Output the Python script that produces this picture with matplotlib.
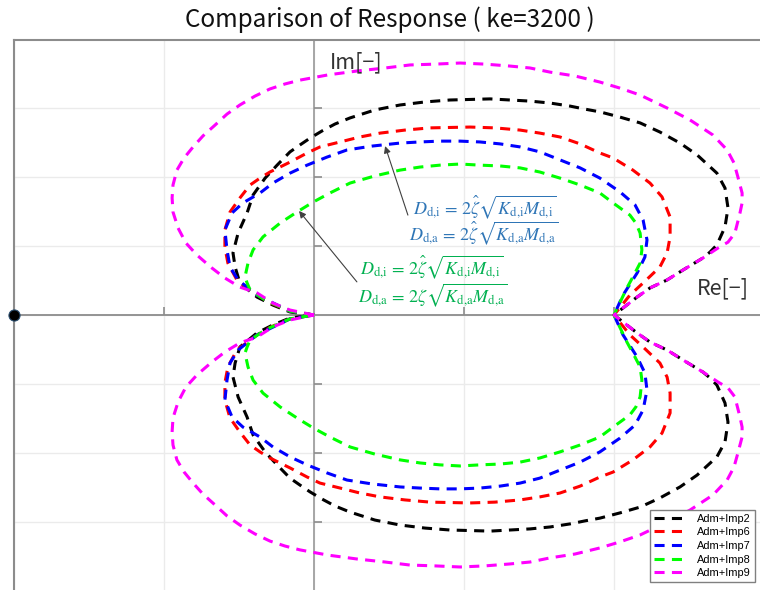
import numpy as np
import matplotlib
matplotlib.use("Agg")
import matplotlib.pyplot as plt

plt.rcParams['font.family'] = ['Noto Sans CJK JP', 'DejaVu Sans']
plt.rcParams['mathtext.fontset'] = 'stix'

# ---------------- data (upper half, origin -> 1+0j); lower half is the conjugate ----
labels = ["Adm+Imp2", "Adm+Imp6", "Adm+Imp7", "Adm+Imp8", "Adm+Imp9"]
colors = ["#000000", "#ff0000", "#0000ff", "#00ff00", "#ff00ff"]

re_imp2 = [0, -0.080, -0.137, -0.190, -0.247, -0.263, -0.270, -0.253, -0.223, -0.203, -0.163,
           -0.123, -0.080, -0.047, -0.013, 0.027, 0.070, 0.120, 0.203, 0.287, 0.370, 0.453,
           0.587, 0.720, 0.787, 0.853, 0.903, 0.953,
           1.020, 1.087, 1.153, 1.220, 1.277, 1.343, 1.370, 1.380, 1.370, 1.343, 1.320, 1.297,
           1.230, 1.177, 1.120, 1.077, 1.0]
im_imp2 = [0, 0.011, 0.036, 0.065, 0.116, 0.174, 0.225, 0.297, 0.370, 0.435, 0.496,
           0.543, 0.591, 0.616, 0.641, 0.667, 0.692, 0.714, 0.743, 0.761, 0.772, 0.779,
           0.783, 0.775, 0.768, 0.757, 0.746, 0.736,
           0.717, 0.696, 0.663, 0.623, 0.580, 0.514, 0.460, 0.388, 0.319, 0.254, 0.228, 0.207,
           0.163, 0.127, 0.098, 0.065, 0]

re_imp6 = [0, -0.080, -0.137, -0.190, -0.257, -0.287, -0.297, -0.297, -0.280, -0.247, -0.213,
           -0.180, -0.147, -0.080, -0.023, 0.020, 0.087, 0.153, 0.220, 0.303, 0.387, 0.520,
           0.603, 0.687, 0.753, 0.820, 0.887, 0.953,
           0.997, 1.063, 1.120, 1.160, 1.187, 1.187, 1.177, 1.153, 1.097, 1.053, 1.0]
im_imp6 = [0, 0.014, 0.040, 0.072, 0.127, 0.188, 0.246, 0.308, 0.373, 0.424, 0.471,
           0.496, 0.518, 0.554, 0.587, 0.609, 0.627, 0.645, 0.659, 0.670, 0.678, 0.681,
           0.678, 0.670, 0.659, 0.645, 0.620, 0.587,
           0.569, 0.525, 0.478, 0.428, 0.355, 0.283, 0.225, 0.174, 0.116, 0.072, 0]

re_imp7 = [0, -0.080, -0.190, -0.253, -0.280, -0.290, -0.297, -0.273, -0.237, -0.180, -0.137,
           -0.080, -0.023, 0.043, 0.110, 0.193, 0.287, 0.353, 0.420, 0.487, 0.553, 0.620,
           0.687, 0.753, 0.820, 0.887, 0.953,
           1.020, 1.070, 1.097, 1.110, 1.103, 1.077, 1.047, 1.030, 1.0]
im_imp7 = [0, 0.014, 0.072, 0.127, 0.174, 0.236, 0.308, 0.370, 0.406, 0.442, 0.478,
           0.514, 0.543, 0.572, 0.598, 0.612, 0.623, 0.627, 0.630, 0.630, 0.627, 0.620,
           0.609, 0.591, 0.562, 0.533, 0.496,
           0.446, 0.399, 0.344, 0.272, 0.210, 0.152, 0.101, 0.072, 0]

re_imp8 = [0, -0.080, -0.163, -0.213, -0.223, -0.230, -0.220, -0.203, -0.170, -0.113, -0.057,
           -0.003, 0.053, 0.120, 0.203, 0.287, 0.353, 0.420, 0.487, 0.553, 0.620, 0.687,
           0.753, 0.820, 0.887, 0.953,
           0.997, 1.053, 1.073, 1.087, 1.093, 1.087, 1.063, 1.043, 1.0]
im_imp8 = [0, 0.014, 0.054, 0.091, 0.116, 0.138, 0.188, 0.236, 0.283, 0.333, 0.373,
           0.409, 0.442, 0.478, 0.504, 0.525, 0.536, 0.543, 0.547, 0.543, 0.540, 0.533,
           0.518, 0.496, 0.471, 0.442,
           0.406, 0.362, 0.333, 0.297, 0.236, 0.188, 0.138, 0.098, 0]

re_imp9 = [0, -0.080, -0.137, -0.190, -0.247, -0.297, -0.340, -0.390, -0.427, -0.453, -0.470,
           -0.473, -0.470, -0.457, -0.433, -0.403, -0.370, -0.330, -0.290, -0.247, -0.197,
           -0.147, -0.097, -0.047, 0.047, 0.143, 0.237, 0.320, 0.403, 0.487, 0.570, 0.653,
           0.720, 0.787, 0.870, 0.953, 1.020, 1.087, 1.177, 1.253, 1.330, 1.377, 1.400, 1.413,
           1.427, 1.427, 1.420, 1.403, 1.380, 1.347, 1.297, 1.230, 1.177, 1.120, 1.077, 1.0]
im_imp9 = [0, 0.018, 0.043, 0.080, 0.101, 0.134, 0.170, 0.217, 0.261, 0.315, 0.373,
           0.424, 0.471, 0.525, 0.569, 0.609, 0.649, 0.688, 0.728, 0.761, 0.793,
           0.819, 0.837, 0.851, 0.870, 0.884, 0.895, 0.906, 0.909, 0.913, 0.909, 0.902,
           0.895, 0.880, 0.866, 0.844, 0.822, 0.797, 0.750, 0.707, 0.652, 0.598, 0.551, 0.500,
           0.442, 0.406, 0.370, 0.297, 0.264, 0.243, 0.207, 0.163, 0.127, 0.098, 0.065, 0]

series_re = [re_imp2, re_imp6, re_imp7, re_imp8, re_imp9]
series_im = [im_imp2, im_imp6, im_imp7, im_imp8, im_imp9]

xgrid = [-1.0, -0.5, 0.0, 0.5, 1.0, 1.5]
ygrid = [-1.0, -0.75, -0.5, -0.25, 0.0, 0.25, 0.5, 0.75, 1.0]
critical_point = (-1.0, 0.0)

title = "Comparison of Response ( ke=3200 )"

# ---------------- figure ----------------
fig = plt.figure(figsize=(7.6, 5.9), dpi=100)
ax = fig.add_axes([14 / 760, -1 / 590, 750 / 760, 551 / 590])
ax.set_xlim(-1.0, 1.5)
ax.set_ylim(-1.0, 0.9964)

for gx in xgrid:
    ax.axvline(gx, color="#ebebeb", lw=1.0, zorder=0)
for gy in ygrid:
    ax.axhline(gy, color="#ebebeb", lw=1.0, zorder=0)

ax.axhline(0, color="#8c8c8c", lw=1.3, zorder=1)
ax.axvline(0, color="#a0a0a0", lw=1.3, zorder=1)

# small tick marks on the central axes
ytk = [v for v in ygrid if v != 0 and abs(v) < 1]
xtk = [v for v in xgrid if v not in (0.0, -1.0, 1.5)]
ax.plot([0] * len(ytk), ytk, ls="none", marker=1, ms=6, mew=1.2, color="#8c8c8c", zorder=1)
ax.plot(xtk, [0] * len(xtk), ls="none", marker=2, ms=6, mew=1.2, color="#8c8c8c", zorder=1)

for sp in ["right", "bottom"]:
    ax.spines[sp].set_visible(False)
for sp in ["top", "left"]:
    ax.spines[sp].set_color("#8c8c8c")
    ax.spines[sp].set_linewidth(1.5)
ax.set_xticks([])
ax.set_yticks([])

for re, im, c, lab in zip(series_re, series_im, colors, labels):
    re = np.asarray(re)
    im = np.asarray(im)
    x = np.concatenate([re, re[::-1][1:]])
    y = np.concatenate([im, -im[::-1][1:]])
    ax.plot(x, y, color=c, lw=2.2, ls=(0, (3.3, 2.4)), label=lab, zorder=3,
            solid_capstyle="butt", dash_capstyle="butt", solid_joinstyle="round")

ax.plot([critical_point[0]], [critical_point[1]], marker="o", ms=8, color="black",
        mec="#2a4d6e", mew=0.8, zorder=5, clip_on=False)

ax.text(0.053, 0.917, "Im[−]", fontsize=15.5, color="#333333", ha="left", va="center")
ax.text(1.277, 0.098, "Re[−]", fontsize=15.5, color="#333333", ha="left", va="center")

blue = "#2e75b6"
green = "#00b050"
fs = 13
ax.text(0.570, 0.391, r"$D_{\text{d,i}}\,=\,2\hat{\zeta}\sqrt{K_{\text{d,i}}M_{\text{d,i}}}$",
        color=blue, fontsize=fs, ha="center", va="center", zorder=6)
ax.text(0.567, 0.297, r"$D_{\text{d,a}}\,=\,2\hat{\zeta}\sqrt{K_{\text{d,a}}M_{\text{d,a}}}$",
        color=blue, fontsize=fs, ha="center", va="center", zorder=6)
ax.text(0.393, 0.174, r"$D_{\text{d,i}}\,=\,2\hat{\zeta}\sqrt{K_{\text{d,i}}M_{\text{d,i}}}$",
        color=green, fontsize=fs, ha="center", va="center", zorder=6)
ax.text(0.397, 0.072, r"$D_{\text{d,a}}\,=\,2\zeta\sqrt{K_{\text{d,a}}M_{\text{d,a}}}$",
        color=green, fontsize=fs, ha="center", va="center", zorder=6)

arrow = dict(arrowstyle="-|>", color="#404040", lw=0.8, mutation_scale=10, shrinkA=0, shrinkB=0)
ax.annotate("", xy=(0.237, 0.612), xytext=(0.313, 0.362), arrowprops=arrow, zorder=6)
ax.annotate("", xy=(-0.050, 0.377), xytext=(0.143, 0.120), arrowprops=arrow, zorder=6)

leg = ax.legend(loc="lower right", bbox_to_anchor=(755 / 760, 8 / 590),
                bbox_transform=fig.transFigure, frameon=True, fancybox=False,
                edgecolor="#808080", framealpha=1, handlelength=3.1, handletextpad=0.9,
                labelspacing=0.33, borderpad=0.35, borderaxespad=0,
                prop={"family": ["Liberation Sans", "DejaVu Sans"], "size": 7.9})
leg.get_frame().set_linewidth(1.0)

fig.text(390 / 760, 1 - 20 / 590, title, fontsize=17.5, ha="center", va="center", color="#111111")

fig.savefig("out.png", dpi=100)
